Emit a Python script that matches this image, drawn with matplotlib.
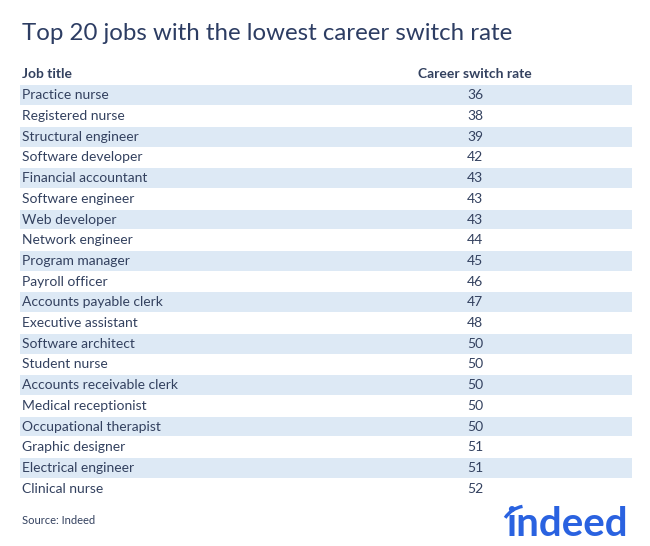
import matplotlib
matplotlib.use("Agg")
import matplotlib.pyplot as plt
from matplotlib.patches import Arc

title = "Top 20 jobs with the lowest career switch rate"
col_headers = ["Job title", "Career switch rate"]
jobs = ["Practice nurse", "Registered nurse", "Structural engineer", "Software developer",
        "Financial accountant", "Software engineer", "Web developer", "Network engineer",
        "Program manager", "Payroll officer", "Accounts payable clerk", "Executive assistant",
        "Software architect", "Student nurse", "Accounts receivable clerk", "Medical receptionist",
        "Occupational therapist", "Graphic designer", "Electrical engineer", "Clinical nurse"]
rates = [36, 38, 39, 42, 43, 43, 43, 44, 45, 46, 47, 48, 50, 50, 50, 50, 50, 51, 51, 52]
source = "Source: Indeed"

W, H = 650, 546
fig = plt.figure(figsize=(W / 100, H / 100), dpi=100)
fig.patch.set_facecolor("white")
FONT = "Lato"
TXT = "#33415f"
STRIPE = "#dde9f5"
BLUE = "#2a62e0"

fig.text(22 / W, 1 - 34 / H, title, fontsize=17.3, color="#2d3d63", family=FONT,
         va="center", ha="left")

# table axes
left, right = 20, 632
top, bottom = 85, 499
ax = fig.add_axes([left / W, 1 - bottom / H, (right - left) / W, (bottom - top) / H])
ax.set_xlim(0, 1)
n = len(jobs)
ax.set_ylim(n - 0.5, -0.5)
ax.axis("off")

stripe_idx = [i for i in range(n) if i % 2 == 0]
ax.barh(stripe_idx, [1] * len(stripe_idx), height=0.96, left=0, color=STRIPE, lw=0)

xv = (475 - left) / (right - left)
xj = 2 / (right - left)
for i, (j, r) in enumerate(zip(jobs, rates)):
    ax.text(xj, i, j, fontsize=10, color=TXT, family=FONT, va="center", ha="left")
    ax.text(xv, i, str(r), fontsize=10, color=TXT, family=FONT, va="center", ha="center")

ax.text(xj, -1.05, col_headers[0], fontsize=10, color=TXT, family=FONT, weight="bold",
        va="center", ha="left", clip_on=False)
ax.text(xv, -1.05, col_headers[1], fontsize=10, color=TXT, family=FONT, weight="bold",
        va="center", ha="center", clip_on=False)

fig.text(22 / W, 1 - 521 / H, source, fontsize=8, color=TXT, family=FONT,
         va="center", ha="left")

# logo
lax = fig.add_axes([0, 0, 1, 1], facecolor="none")
lax.set_xlim(0, W)
lax.set_ylim(0, H)
lax.axis("off")
lax.text(628, H - 524, "indeed", fontsize=29, color=BLUE, family=FONT,
         weight="bold", va="center", ha="right")
lax.add_patch(Arc((527, H - 532), 52, 52, theta1=100, theta2=147, color=BLUE, lw=2.4))

fig.savefig("out.png", dpi=100, facecolor="white")
